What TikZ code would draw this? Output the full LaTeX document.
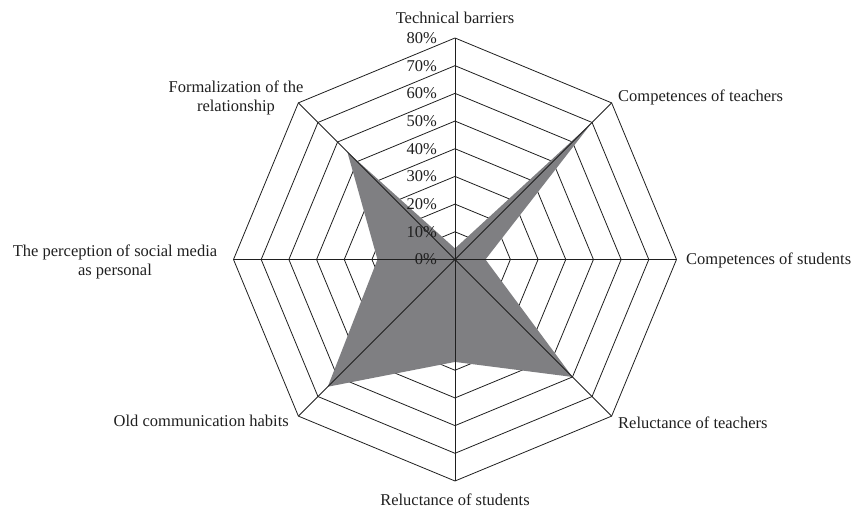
\documentclass[tikz,border=0pt]{standalone}
\usepackage{fontspec}
\setmainfont{Liberation Serif}
\begin{document}
\begin{tikzpicture}[x=1pt,y=1pt,
  gridline/.style={line width=0.8pt, draw=black!88},
  series/.style={fill={rgb,255:red,127;green,127;blue,130}},
  lbl/.style={font=\fontsize{16.5}{19}\selectfont, inner sep=0pt, text=black!88},
  pct/.style={lbl, anchor=base east}]
\useasboundingbox (0,0) rectangle (857,510);
\coordinate (O) at (455,250.5);
\begin{scope}[shift={(455,250.5)}]
  % rings
  \foreach \k in {1,...,8}
    \draw[gridline] (90:{\k*27.6875})
      \foreach \a in {45,0,-45,-90,-135,-180,-225} { -- (\a:{\k*27.6875}) } -- cycle;
  % series polygon
  \coordinate (v1) at (90:{4*2.76875});
  \coordinate (v2) at (45:{70*2.76875});
  \coordinate (v3) at (0:{11*2.76875});
  \coordinate (v4) at (-45:{60*2.76875});
  \coordinate (v5) at (-90:{37*2.76875});
  \coordinate (v6) at (-135:{65*2.76875});
  \coordinate (v7) at (180:{28*2.76875});
  \coordinate (v8) at (135:{55*2.76875});
  \fill[series] (v1) -- (v2) -- (v3) -- (v4) -- (v5) -- (v6) -- (v7) -- (v8) -- cycle;
  % axes
  \foreach \i/\a in {1/90,2/45,3/0,4/-45,5/-90,6/-135,7/180,8/135} {
    \coordinate (e\i) at (\a:221.5);
    \draw[gridline] (O) -- (e\i);
  }
\end{scope}
% percent labels
\foreach \k/\t in {0/0,1/10,2/20,3/30,4/40,5/50,6/60,7/70,8/80}
  \node[pct] (p\k) at (437,{250.5+\k*27.6875-5.5}) {\t\%};
% axis labels
\node[lbl, anchor=base] (l1) at (455,486) {Technical barriers};
\node[lbl, anchor=base west] (l2) at (618,408) {Competences of teachers};
\node[lbl, anchor=base west] (l3) at (686,245) {Competences of students};
\node[lbl, anchor=base west] (l4) at (618,81) {Reluctance of teachers};
\node[lbl, anchor=base] (l5) at (455,4) {Reluctance of students};
\node[lbl, anchor=base east] (l6) at (289,83) {Old communication habits};
\node[lbl, anchor=north, align=center] (l7) at (115,265.5) {The perception of social media\\as personal};
\node[lbl, anchor=north, align=center] (l8) at (236,429.5) {Formalization of the\\relationship};
\end{tikzpicture}
\end{document}
